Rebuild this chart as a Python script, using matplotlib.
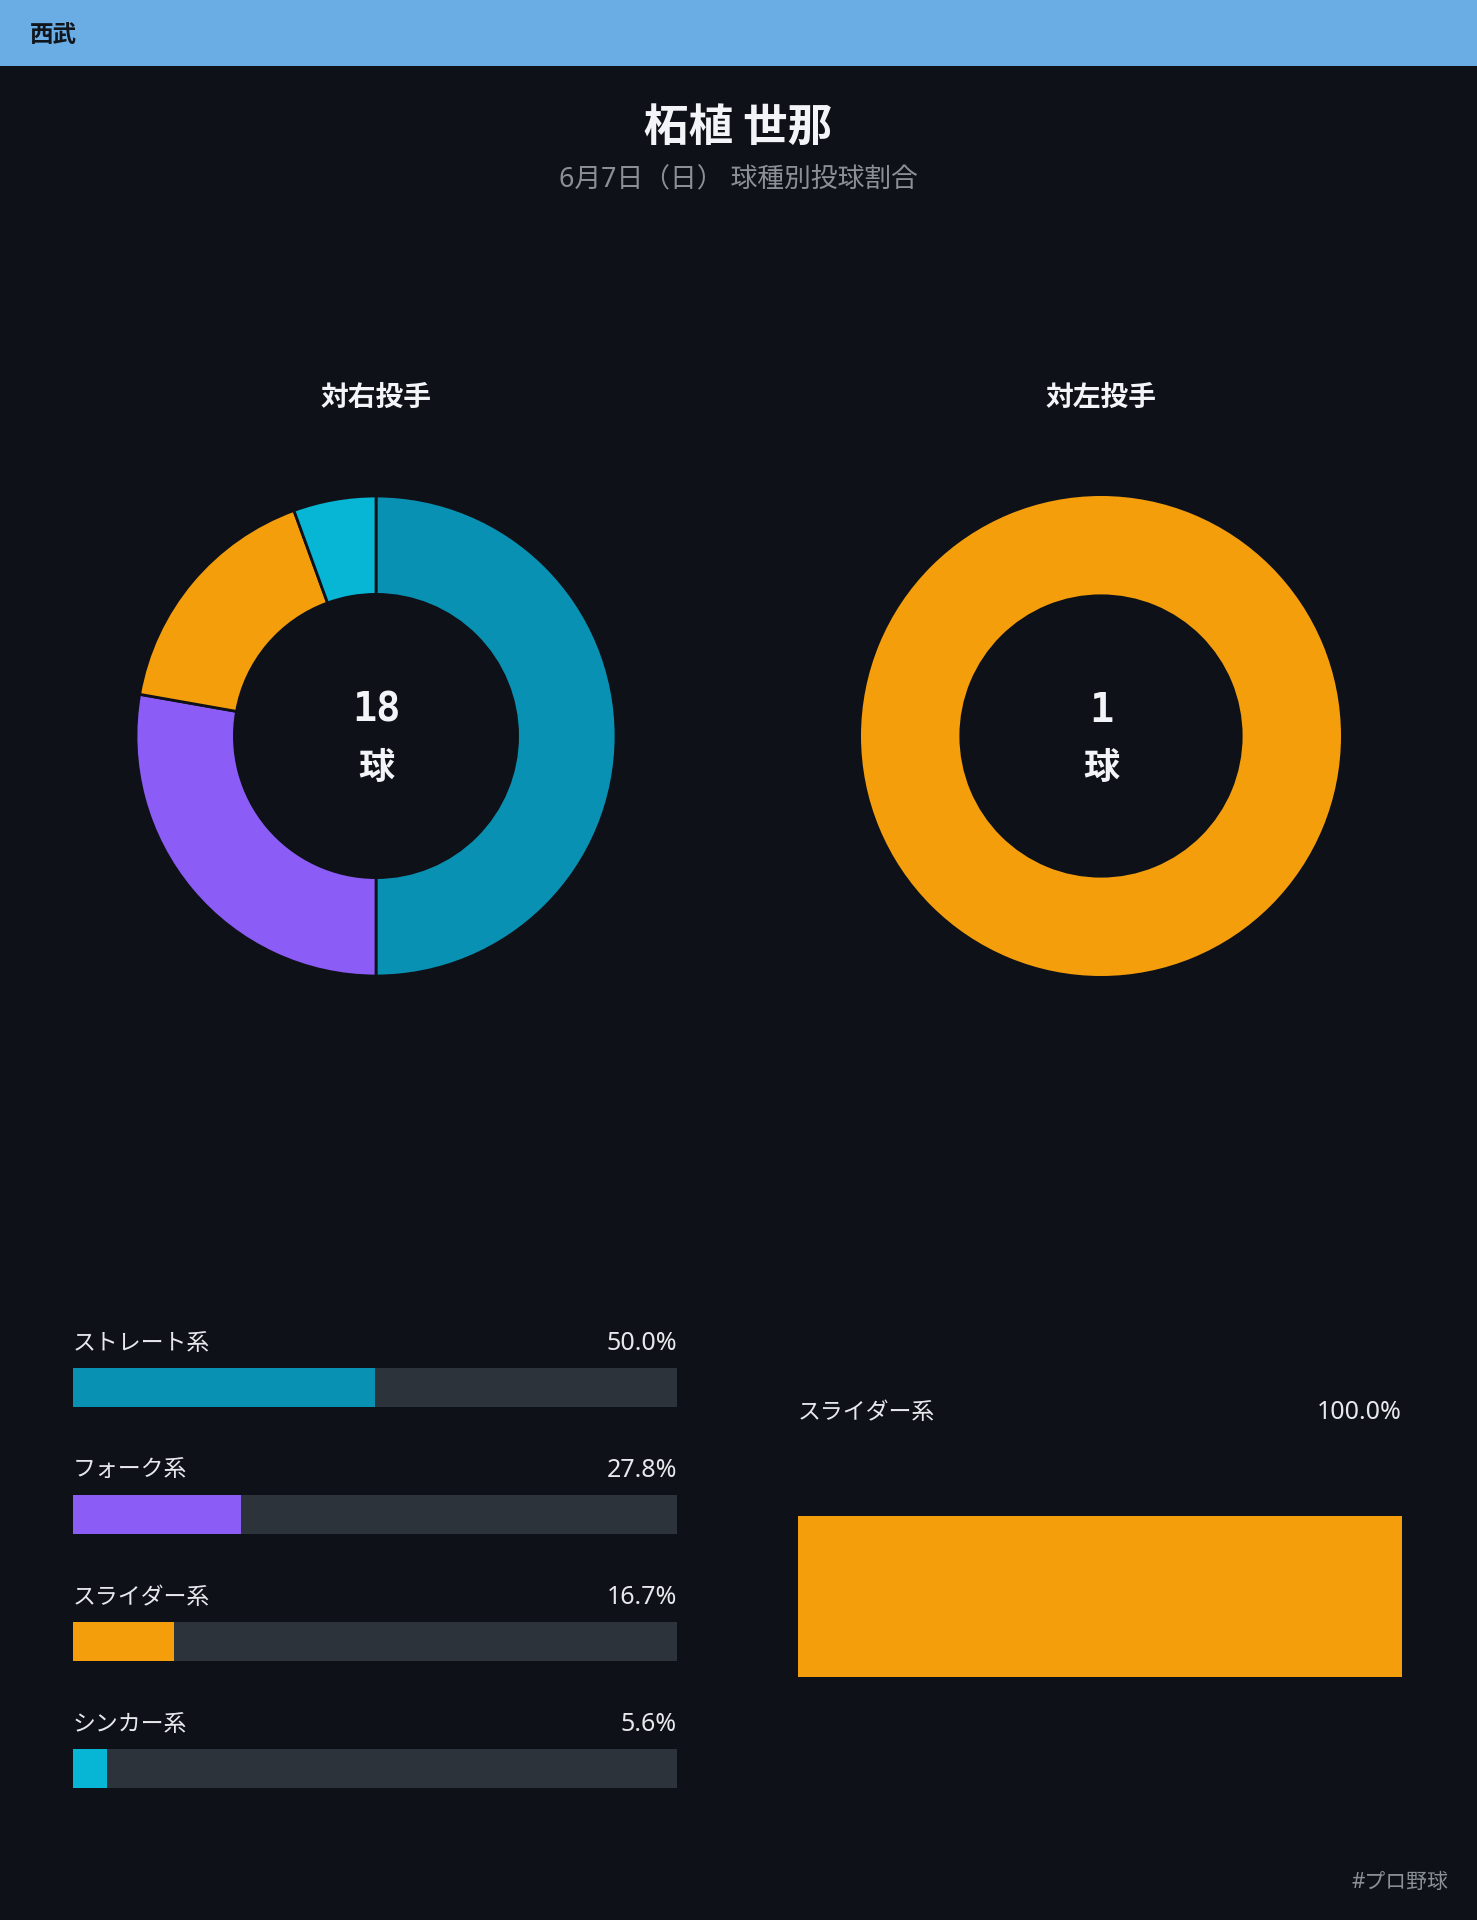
import matplotlib
matplotlib.use('Agg')
import matplotlib.pyplot as plt
from matplotlib.patches import Rectangle
from matplotlib import font_manager as fm

plt.rcParams['font.family'] = ['Noto Sans CJK JP', 'DejaVu Sans']
LATIN = ['Noto Sans', 'Noto Sans CJK JP', 'DejaVu Sans']
MONO = fm.FontProperties(fname=fm.findfont(fm.FontProperties(family='DejaVu Sans Mono',
                                                             weight='bold')), size=29)

# data
team = '西武'
pitcher = '柘植 世那'
subtitle = '6月7日（日） 球種別投球割合'
footer = '#プロ野球'

right_title = '対右投手'
right_types = ['ストレート系', 'フォーク系', 'スライダー系', 'シンカー系']
right_counts = [9, 5, 3, 1]
right_colors = ['#0891B2', '#8B5CF6', '#F59E0B', '#06B6D4']

left_title = '対左投手'
left_types = ['スライダー系']
left_counts = [1]
left_colors = ['#F59E0B']

BG = '#0E1118'
TRACK = '#2D333B'
TXT = '#E6E8EC'
GRAY = '#8B9097'

W, H = 1477, 1920
fig = plt.figure(figsize=(W / 100, H / 100), dpi=100, facecolor=BG)


def px_axes(x0, y0, x1, y1):
    '''
    Make axes from a pixel box (top-left origin).
    '''
    ax = fig.add_axes([x0 / W, 1 - y1 / H, (x1 - x0) / W, (y1 - y0) / H])
    ax.set_facecolor('none')
    ax.axis('off')
    return ax


# header band
fig.patches.append(Rectangle((0, 1 - 66 / H), 1, 66 / H, transform=fig.transFigure,
                             facecolor='#6AACE4', edgecolor='none'))
fig.text(30 / W, 1 - 35 / H, team, color='#11151C', fontsize=17, fontweight='bold',
         ha='left', va='center')

fig.text(0.5, 1 - 128 / H, pitcher, color='#F2F4F7', fontsize=32, fontweight='bold',
         ha='center', va='center')
fig.text(0.5, 1 - 180 / H, subtitle, color=GRAY, fontsize=19.3, family=LATIN,
         ha='center', va='center')


def donut(cx, title, counts, colors):
    '''
    Draw one donut with its title and total in the middle.
    '''
    cy, r = 736, 240
    ax = px_axes(cx - r, cy - r, cx + r, cy + r)
    ax.pie(counts, colors=colors, startangle=90, counterclock=False,
           wedgeprops=dict(width=0.41, edgecolor=BG if len(counts) > 1 else 'none',
                           linewidth=2))
    ax.set_xlim(-1, 1)
    ax.set_ylim(-1, 1)
    fig.text(cx / W, 1 - 398 / H, title, color='#F2F4F7', fontsize=20,
             fontweight='bold', ha='center', va='center')
    fig.text(cx / W, 1 - 710 / H, str(sum(counts)), color='#F2F4F7',
             fontproperties=MONO, ha='center', va='center')
    fig.text(cx / W, 1 - 768 / H, '球', color='#F2F4F7', fontsize=26,
             fontweight='bold', ha='center', va='center')


donut(376, right_title, right_counts, right_colors)
donut(1101, left_title, left_counts, left_colors)


def bars(ax, types, counts, colors, bar_h, label_off):
    '''
    Horizontal share bars with name and percent above each.
    '''
    total = sum(counts)
    pcts = [c / total * 100 for c in counts]
    ys = list(range(len(types)))
    ax.barh(ys, [100] * len(ys), height=bar_h, color=TRACK)
    ax.barh(ys, pcts, height=bar_h, color=colors)
    for y, name, p in zip(ys, types, pcts):
        ax.text(0, y - label_off, name, color=TXT, fontsize=16.5, ha='left', va='center')
        ax.text(100, y - label_off, f'{p:.1f}%', color=TXT, fontsize=18, family=LATIN,
                ha='right', va='center')
    ax.set_xlim(0, 100)


# left panel: row pitch 127px
ax1 = px_axes(73, 1324, 677, 1832)
bars(ax1, right_types, right_counts, right_colors, 39 / 127, 44 / 127)
ax1.set_ylim(3.5, -0.5)

# right panel: one tall bar
ax2 = px_axes(798, 1516, 1402, 1677)
bars(ax2, left_types, left_counts, left_colors, 1.0, 184 / 161)
ax2.set_ylim(0.5, -0.5)

fig.text(1448 / W, 1 - 1882 / H, footer, color=GRAY, fontsize=15, family=LATIN,
         ha='right', va='center')

fig.savefig('out.png', dpi=100, facecolor=BG)
